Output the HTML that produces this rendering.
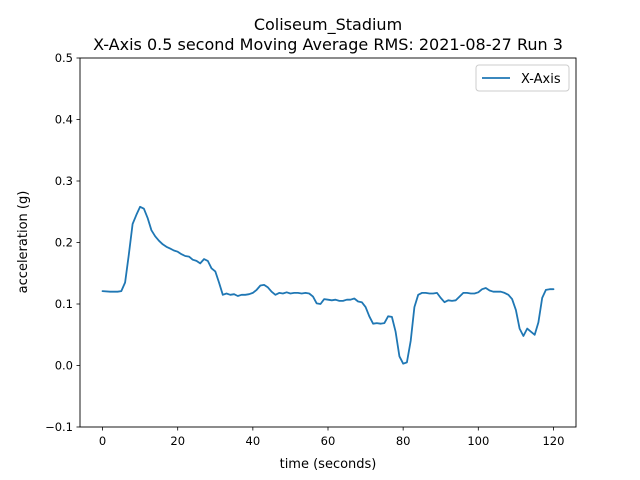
<!DOCTYPE html>
<html><head><meta charset="utf-8"><style>
body{margin:0;background:#fff;}
svg{display:block;font-family:"DejaVu Sans","Liberation Sans",sans-serif;}
</style></head><body>
<svg id="chart" width="640" height="480" viewBox="0 0 640 480">
<rect width="640" height="480" fill="#fff"/>
<text x="328" y="30" text-anchor="middle" font-size="16">Coliseum_Stadium</text>
<text x="328" y="50" text-anchor="middle" font-size="16">X-Axis 0.5 second Moving Average RMS: 2021-08-27 Run 3</text>
<g id="ticks"></g>
<path id="line" fill="none" stroke="#1f77b4" stroke-width="1.8" stroke-linejoin="round" stroke-linecap="round"/>
<rect x="80" y="58" width="496" height="369" fill="none" stroke="#000" stroke-width="0.9"/>
<text x="328" y="468" text-anchor="middle" font-size="13">time (seconds)</text>
<text x="27" y="242" text-anchor="middle" font-size="13" transform="rotate(-90 27 242)">acceleration (g)</text>
<g>
<rect x="476" y="65" width="93" height="26" rx="3" fill="#fff" stroke="#ccc" stroke-width="1"/>
<line x1="482" y1="78" x2="510" y2="78" stroke="#1f77b4" stroke-width="1.8"/>
<text x="521" y="83" font-size="13">X-Axis</text>
</g>
</svg>
<script>
const times=[0,2,4,5,6,7,8,9,10,11,12,13,14,15,16,17,18,19,20,21,22,23,24,25,26,27,28,29,30,31,32,33,34,35,36,37,38,39,40,41,42,43,44,45,46,47,48,49,50,51,52,53,54,55,56,57,58,59,60,61,62,63,64,65,66,67,68,69,70,71,72,73,74,75,76,77,78,79,80,81,82,83,84,85,86,87,88,89,90,91,92,93,94,95,96,97,98,99,100,101,102,103,104,105,106,107,108,109,110,111,112,113,114,115,116,117,118,119,120];
const values=[.121,.120,.120,.121,.135,.18,.23,.245,.258,.255,.24,.22,.21,.203,.197,.193,.19,.187,.185,.181,.178,.177,.172,.170,.166,.173,.170,.158,.153,.135,.115,.117,.115,.116,.113,.115,.115,.116,.118,.123,.13,.131,.127,.120,.115,.118,.117,.119,.117,.118,.118,.117,.118,.117,.112,.101,.100,.108,.107,.106,.107,.105,.105,.107,.107,.109,.104,.103,.095,.080,.068,.069,.068,.069,.080,.079,.055,.015,.003,.005,.04,.095,.115,.118,.118,.117,.117,.118,.110,.103,.106,.105,.106,.112,.118,.118,.117,.117,.119,.124,.126,.122,.120,.120,.120,.118,.115,.108,.09,.06,.048,.060,.055,.050,.07,.11,.123,.124,.124];
const xTicks=[0,20,40,60,80,100,120];
const yTicks=[-0.1,0.0,0.1,0.2,0.3,0.4,0.5];
const xs=t=>80+(t+6)/132*496;
const ys=v=>427-(v+0.1)/0.6*369;
const NS="http://www.w3.org/2000/svg";
const g=document.getElementById('ticks');
function mk(tag,attrs,txt){const e=document.createElementNS(NS,tag);for(const k in attrs)e.setAttribute(k,attrs[k]);if(txt!=null)e.textContent=txt;g.appendChild(e);return e;}
xTicks.forEach(t=>{
 const l=mk('line',{x1:xs(t),x2:xs(t),y1:427,y2:430.5,stroke:'#000','stroke-width':0.8});
 
 
 const tx=mk('text',{x:xs(t),y:445,'text-anchor':'middle','font-size':11.5},String(t));
 
 
});
yTicks.forEach(v=>{
 const l=mk('line',{x1:76.5,x2:80,y1:ys(v),y2:ys(v),stroke:'#000','stroke-width':0.8});
 
 
 const tx=mk('text',{x:73,y:ys(v)+4,'text-anchor':'end','font-size':11.5},(v<0?'\u2212':'')+Math.abs(v).toFixed(1));
 
 
});
document.getElementById('line').setAttribute('d',times.map((t,i)=>(i?'L':'M')+xs(t).toFixed(1)+','+ys(values[i]).toFixed(1)).join(''));
</script>
</body></html>
